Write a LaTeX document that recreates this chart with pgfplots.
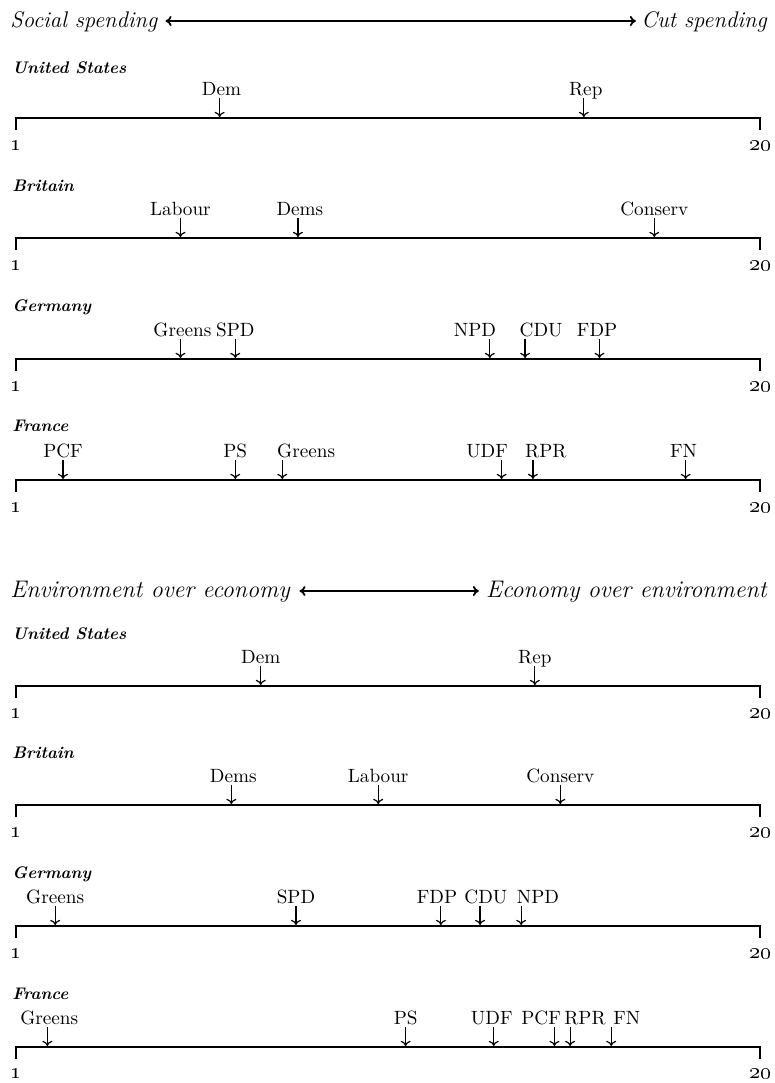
\documentclass[border=0pt]{standalone}
\usepackage{pgfplots}
\pgfplotsset{compat=1.18}
\usepackage{pgfplotstable}
\usetikzlibrary{arrows.meta}

% x = party position (1-20), lx = label centre, line = vertical position of the number line
\pgfplotstableread{
x     lx     line label
6.2   6.25   118  Dem
15.5  15.55  118  Rep
5.2   5.2    238  Labour
8.2   8.25   238  Dems
17.3  17.3   238  Conserv
5.2   5.25   359  Greens
6.6   6.6    359  SPD
13.1  12.72  359  NPD
14.0  14.41  359  CDU
15.9  15.84  359  FDP
2.2   2.2    480  PCF
6.6   6.6    480  PS
7.8   8.41   480  Greens
13.4  13.03  480  UDF
14.2  14.53  480  RPR
18.1  18.05  480  FN
}\spending

\pgfplotstableread{
x     lx     line label
7.25  7.25   686  Dem
14.25 14.25  686  Rep
6.5   6.55   805  Dems
10.25 10.25  805  Labour
14.9  14.9   805  Conserv
2.0   2.0    926  Greens
8.15  8.15   926  SPD
11.85 11.75  926  FDP
12.85 13.0   926  CDU
13.9  14.33  926  NPD
1.8   1.85   1047 Greens
10.95 10.95  1047 PS
13.2  13.15  1047 UDF
14.75 14.41  1047 PCF
15.15 15.53  1047 RPR
16.2  16.6   1047 FN
}\environment

\newcommand{\titlefont}{\fontsize{11.3}{13}\selectfont\itshape}
\newcommand{\titlefontb}{\fontsize{12}{13}\selectfont\itshape}
\newcommand{\countryfont}{\fontsize{8.4}{9}\selectfont\bfseries\itshape}
\newcommand{\partyfont}{\fontsize{9.6}{11}\selectfont}
\newcommand{\tickfont}{\fontsize{11}{12}\selectfont\bfseries}

\begin{document}
\begin{tikzpicture}
\begin{axis}[
  scale only axis, width=387.5pt, height=541.5pt,
  xmin=0.5914, xmax=20.382, ymin=0, ymax=1083, y dir=reverse,
  axis lines=none, clip=false]

% number lines with end ticks
\pgfplotsinvokeforeach{118,238,359,480,686,805,926,1047}{
  \addplot[line width=1.1pt, line cap=rect] coordinates {(1,#1) (20,#1)};
  \addplot[line width=0.6pt, quiver={u=0, v=12}] coordinates {(1,#1) (20,#1)};
}

% arrows and party labels
\addplot[line width=0.6pt, -{To[length=2.6pt,width=5pt]}, quiver={u=0, v=19}]
  table[x=x, y expr=\thisrow{line}-20] {\spending};
\addplot[draw=none, nodes near coords, point meta=explicit symbolic,
  nodes near coords style={anchor=base, font=\partyfont, inner sep=0pt}]
  table[x=lx, y expr=\thisrow{line}-23, meta=label] {\spending};

\addplot[line width=0.6pt, -{To[length=2.6pt,width=5pt]}, quiver={u=0, v=19}]
  table[x=x, y expr=\thisrow{line}-20] {\environment};
\addplot[draw=none, nodes near coords, point meta=explicit symbolic,
  nodes near coords style={anchor=base, font=\partyfont, inner sep=0pt}]
  table[x=lx, y expr=\thisrow{line}-23, meta=label] {\environment};

% titles
\node[anchor=base west, font=\titlefont, inner sep=0pt] at (axis cs:0.847,27) {Social spending};
\addplot[line width=0.9pt, {To[length=3pt,width=5pt]}-{To[length=3pt,width=5pt]}] coordinates {(4.82,21) (16.83,21)};
\node[anchor=base east, font=\titlefont, inner sep=0pt] at (axis cs:20.18,27) {Cut spending};

\node[anchor=base west, font=\titlefontb, inner sep=0pt] at (axis cs:0.847,597) {Environment over economy};
\addplot[line width=0.9pt, {To[length=3pt,width=5pt]}-{To[length=3pt,width=5pt]}] coordinates {(8.24,591) (12.82,591)};
\node[anchor=base east, font=\titlefontb, inner sep=0pt] at (axis cs:20.18,597) {Economy over environment};

% country names
\node[anchor=base west, font=\countryfont, inner sep=0pt] at (axis cs:0.898,73) {United States};
\node[anchor=base west, font=\countryfont, inner sep=0pt] at (axis cs:0.898,191) {Britain};
\node[anchor=base west, font=\countryfont, inner sep=0pt] at (axis cs:0.898,311) {Germany};
\node[anchor=base west, font=\countryfont, inner sep=0pt] at (axis cs:0.898,431) {France};
\node[anchor=base west, font=\countryfont, inner sep=0pt] at (axis cs:0.898,639) {United States};
\node[anchor=base west, font=\countryfont, inner sep=0pt] at (axis cs:0.898,758) {Britain};
\node[anchor=base west, font=\countryfont, inner sep=0pt] at (axis cs:0.898,878) {Germany};
\node[anchor=base west, font=\countryfont, inner sep=0pt] at (axis cs:0.898,999) {France};

% scale end labels
\pgfplotsinvokeforeach{146,266,387,508,714,833,954,1074}{
  \node[font=\tickfont, inner sep=0pt] at (axis cs:1,#1) {\oldstylenums{1}};
  \node[font=\tickfont, inner sep=0pt] at (axis cs:20,#1) {\oldstylenums{20}};
}
\end{axis}
\pgfresetboundingbox
\useasboundingbox (current axis.south west) rectangle (current axis.north east);
\end{tikzpicture}
\end{document}
